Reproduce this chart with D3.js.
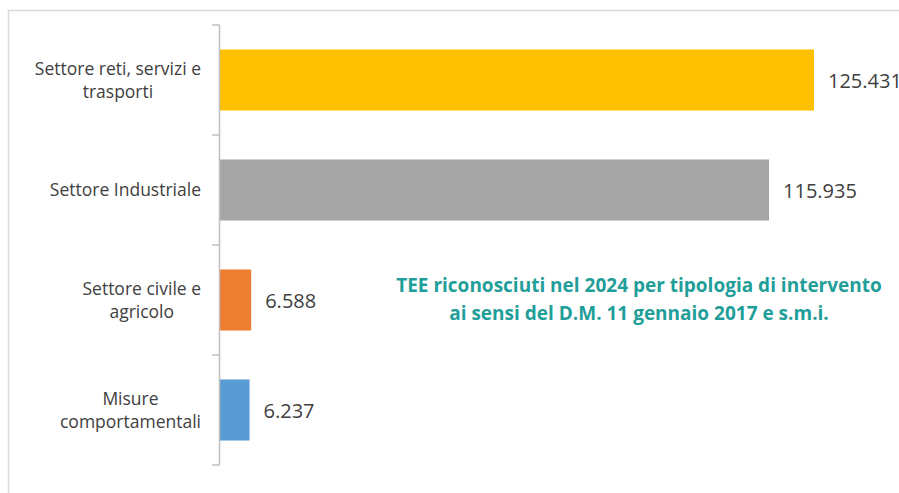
<!DOCTYPE html>
<html>
<head>
<meta charset="utf-8">
<script src="https://cdn.jsdelivr.net/npm/d3@7"></script>
<style>
	body { margin: 0; background: #fff; }
	svg { display: block; font-family: "Open Sans", sans-serif; }
</style>
</head>
<body>
<div id="chart"></div>
<script>
// data
var categories = [
	["Settore reti, servizi e", "trasporti"],
	["Settore Industriale"],
	["Settore civile e", "agricolo"],
	["Misure", "comportamentali"]
];
var values = [125431, 115935, 6588, 6237];
var valueLabels = ["125.431", "115.935", "6.588", "6.237"];
var colors = ["#FFC000", "#A5A5A5", "#ED7D31", "#5B9BD5"];
var titleLines = [
	"TEE riconosciuti nel 2024 per tipologia di intervento",
	"ai sensi del D.M. 11 gennaio 2017 e s.m.i."
];

var width = 899,
	height = 493;

var svg = d3.select("#chart").append("svg")
	.attr("width", width)
	.attr("height", height);

// chart area frame
svg.append("rect")
	.attr("x", 8.5)
	.attr("y", 10.5)
	.attr("width", 920)
	.attr("height", 520)
	.attr("fill", "#fff")
	.attr("stroke", "#d9d9d9")
	.attr("stroke-width", 1.5);

var ids = d3.range(categories.length);

var y = d3.scaleBand()
	.domain(ids)
	.range([25, 465]);

var yBar = d3.scaleBand()
	.domain(ids)
	.range([25, 465])
	.paddingInner(0.445)
	.paddingOuter(0.2225);

var x = d3.scaleLinear()
	.domain([0, 140000])
	.range([220, 883]);

// bars
svg.append("g").selectAll("rect")
	.data(values)
	.enter().append("rect")
	.attr("x", x(0))
	.attr("y", function(d, i) { return yBar(i); })
	.attr("width", function(d) { return x(d) - x(0); })
	.attr("height", yBar.bandwidth())
	.attr("fill", function(d, i) { return colors[i]; });

// category axis
var axis = svg.append("g")
	.attr("transform", "translate(" + x(0) + ",0)");

axis.append("line")
	.attr("x1", -0.5).attr("x2", -0.5)
	.attr("y1", y.range()[0])
	.attr("y2", y.range()[1])
	.attr("stroke", "#bfbfbf")
	.attr("stroke-width", 1.5);

axis.selectAll(".tick")
	.data(d3.range(categories.length + 1))
	.enter().append("line")
	.attr("class", "tick")
	.attr("x1", -8).attr("x2", -0.5)
	.attr("y1", function(d) { return y.range()[0] + d * y.step(); })
	.attr("y2", function(d) { return y.range()[0] + d * y.step(); })
	.attr("stroke", "#bfbfbf")
	.attr("stroke-width", 1.5);

// category labels: lines centred in a block right aligned to the axis
var labelRight = 201,
	lineHeight = 23;

categories.forEach(function(lines, i) {
	var g = svg.append("g");
	var cy = y(i) + y.bandwidth() / 2;
	var texts = g.selectAll("text")
		.data(lines)
		.enter().append("text")
		.attr("text-anchor", "middle")
		.attr("font-size", "17.5px")
		.attr("fill", "#404040")
		.attr("y", function(d, j) { return cy + 6 + (j - (lines.length - 1) / 2) * lineHeight; })
		.text(function(d) { return d; });
	var maxW = d3.max(texts.nodes(), function(n) { return n.getComputedTextLength(); });
	texts.attr("x", labelRight - maxW / 2);
});

// value labels
svg.append("g").selectAll("text")
	.data(values)
	.enter().append("text")
	.attr("x", function(d) { return x(d) + 14; })
	.attr("y", function(d, i) { return yBar(i) + yBar.bandwidth() / 2 + 7.5; })
	.attr("font-size", "20px")
	.attr("fill", "#404040")
	.text(function(d, i) { return valueLabels[i]; });

// title
svg.append("g").selectAll("text")
	.data(titleLines)
	.enter().append("text")
	.attr("x", 639)
	.attr("y", function(d, i) { return 292 + i * 28; })
	.attr("text-anchor", "middle")
	.attr("font-size", "19px")
	.attr("font-weight", "bold")
	.attr("fill", "#1f9e9a")
	.text(function(d) { return d; });
</script>
</body>
</html>
